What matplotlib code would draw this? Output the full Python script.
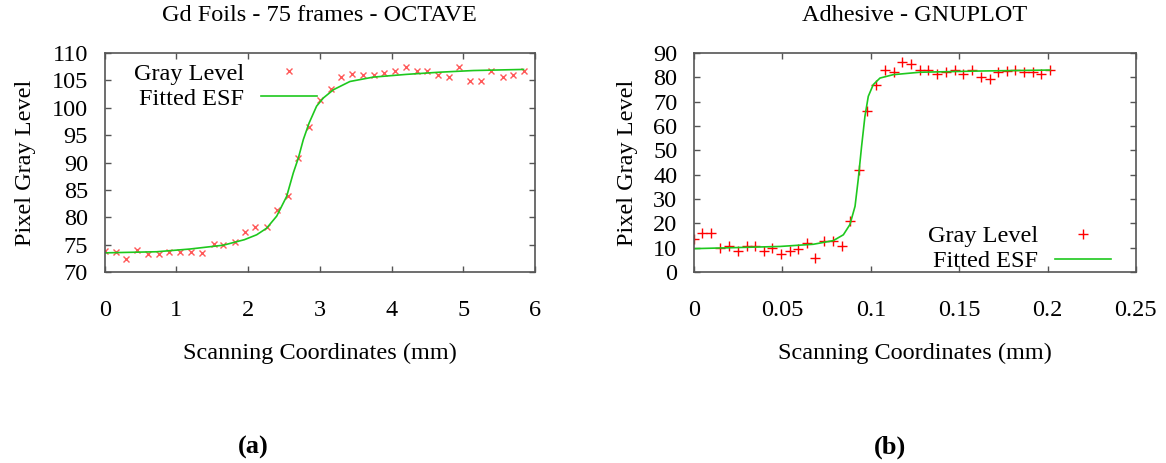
import matplotlib
matplotlib.use('Agg')
import matplotlib.pyplot as plt

plt.rcParams['font.family'] = ['Liberation Serif', 'DejaVu Serif']
plt.rcParams['font.size'] = 17.5

# --- (a) Gd foils, OCTAVE ---
a_x = [0.0, 0.153, 0.30, 0.455, 0.61, 0.76, 0.90, 1.055, 1.21, 1.35, 1.52, 1.65, 1.82,
       1.95, 2.10, 2.26, 2.40, 2.55, 2.70, 2.85, 3.0, 3.15, 3.30, 3.45, 3.60, 3.75, 3.90,
       4.05, 4.20, 4.35, 4.50, 4.65, 4.80, 4.94, 5.10, 5.25, 5.39, 5.55, 5.70, 5.85]
a_y = [73.9, 73.7, 72.4, 74.0, 73.3, 73.3, 73.7, 73.7, 73.7, 73.5, 75.1, 75.0, 75.5,
       77.3, 78.2, 78.2, 81.4, 83.8, 90.8, 96.4, 101.4, 103.4, 105.6, 106.1, 105.9, 106.0, 106.4,
       106.7, 107.5, 106.8, 106.8, 105.9, 105.7, 107.4, 104.8, 104.8, 106.7, 105.6, 105.9, 106.7]
a_fit_x = [0.0, 0.725, 1.19, 1.654, 1.947, 2.119, 2.258, 2.398, 2.537, 2.63, 2.70, 2.77,
           2.85, 2.955, 3.05, 3.19, 3.42, 3.745, 4.21, 4.675, 5.14, 5.84]
a_fit_y = [73.5, 73.7, 74.2, 74.9, 75.9, 76.8, 78.0, 80.2, 83.8, 88.1, 90.8, 94.2,
           97.2, 100.3, 101.8, 103.3, 104.8, 105.6, 106.1, 106.5, 106.8, 107.0]
a_xticks = [0, 1, 2, 3, 4, 5, 6]
a_yticks = [70, 75, 80, 85, 90, 95, 100, 105, 110]

# --- (b) Adhesive, GNUPLOT ---
b_x = [0.0, 0.0047, 0.0096, 0.0147, 0.0198, 0.0247, 0.0298, 0.0345, 0.0396, 0.0443,
       0.0492, 0.0541, 0.059, 0.0637, 0.0686, 0.0735, 0.0786, 0.0837, 0.0884, 0.0933,
       0.098, 0.1031, 0.108, 0.1133, 0.1178, 0.123, 0.1278, 0.1325, 0.1376, 0.1423,
       0.1474, 0.1523, 0.1572, 0.1623, 0.1674, 0.1721, 0.1772, 0.1817, 0.1868, 0.1915,
       0.1962, 0.2013]
b_y = [13.6, 16.0, 16.0, 9.9, 10.5, 8.8, 10.5, 10.5, 8.8, 9.9,
       7.5, 8.8, 9.6, 11.8, 5.6, 12.9, 12.9, 10.5, 20.8, 41.8,
       66.0, 76.8, 83.0, 82.2, 86.2, 85.3, 83.0, 83.0, 81.2, 82.3,
       83.2, 81.2, 83.0, 80.0, 79.2, 82.3, 82.5, 83.0, 82.3, 82.3,
       81.2, 83.0]
b_fit_x = [0.0, 0.0486, 0.0675, 0.0788, 0.0845, 0.0882, 0.0911, 0.0929, 0.0948, 0.0967,
           0.0986, 0.1014, 0.1052, 0.1127, 0.1278, 0.1618, 0.2014]
b_fit_y = [9.6, 10.5, 11.4, 12.9, 15.3, 19.5, 27.0, 38.0, 51.6, 64.0,
           72.2, 77.0, 79.7, 81.1, 82.1, 82.6, 83.0]
b_xticks = [0, 0.05, 0.1, 0.15, 0.2, 0.25]
b_xlabels = ['0', '0.05', '0.1', '0.15', '0.2', '0.25']
b_yticks = [0, 10, 20, 30, 40, 50, 60, 70, 80, 90]

green = '#1ec81e'
spine = '#555555'

fig = plt.figure(figsize=(11.66, 4.63), dpi=100)
ax1 = fig.add_axes([0.0898, 0.4125, 0.369, 0.473])
ax2 = fig.add_axes([0.5952, 0.4125, 0.379, 0.473])


def style(ax):
    for s in ax.spines.values():
        s.set_color(spine)
        s.set_linewidth(1.2)
    ax.tick_params(direction='in', length=4, width=1, color=spine,
                   top=True, right=True, labelsize=17.5)
    ax.tick_params(axis='x', pad=20)
    ax.tick_params(axis='y', pad=12)


ax1.plot(a_x, a_y, 'x', color='#ff3030', ms=5, mew=1, alpha=0.8, label='Gray Level')
ax1.plot(a_fit_x, a_fit_y, '-', color=green, lw=1.2, label='Fitted ESF')
ax1.set_xlim(0, 6)
ax1.set_ylim(70, 110)
ax1.set_xticks(a_xticks)
ax1.set_yticks(a_yticks)
style(ax1)
ax1.set_xlabel('Scanning Coordinates (mm)', labelpad=16)
ax1.set_ylabel('Pixel Gray Level', labelpad=11)
ax1.set_title('Gd Foils - 75 frames - OCTAVE', fontsize=17.5, pad=23)
ax1.legend(loc='upper left', bbox_to_anchor=(0.068, 0.955), frameon=False,
           markerfirst=False, handlelength=2.3, handletextpad=0.7,
           borderpad=0, borderaxespad=0, labelspacing=0.12, fontsize=17.5)

ax2.plot(b_x, b_y, '+', color='#ff0000', ms=7, mew=1, label='Gray Level')
ax2.plot(b_fit_x, b_fit_y, '-', color=green, lw=1.2, label='Fitted ESF')
ax2.set_xlim(0, 0.25)
ax2.set_ylim(0, 90)
ax2.set_xticks(b_xticks)
ax2.set_xticklabels(b_xlabels)
ax2.set_yticks(b_yticks)
style(ax2)
ax2.set_xlabel('Scanning Coordinates (mm)', labelpad=16)
ax2.set_ylabel('Pixel Gray Level', labelpad=11)
ax2.set_title('Adhesive - GNUPLOT', fontsize=17.5, pad=23)
ax2.legend(loc='lower right', bbox_to_anchor=(0.943, 0.0), frameon=False,
           markerfirst=False, handlelength=2.3, handletextpad=0.7,
           borderpad=0, borderaxespad=0, labelspacing=0.12, fontsize=17.5)

fig.text(0.217, 0.02, '(a)', fontsize=19, fontweight='bold', ha='center')
fig.text(0.763, 0.02, '(b)', fontsize=19, fontweight='bold', ha='center')

fig.savefig('out.png', dpi=100)
